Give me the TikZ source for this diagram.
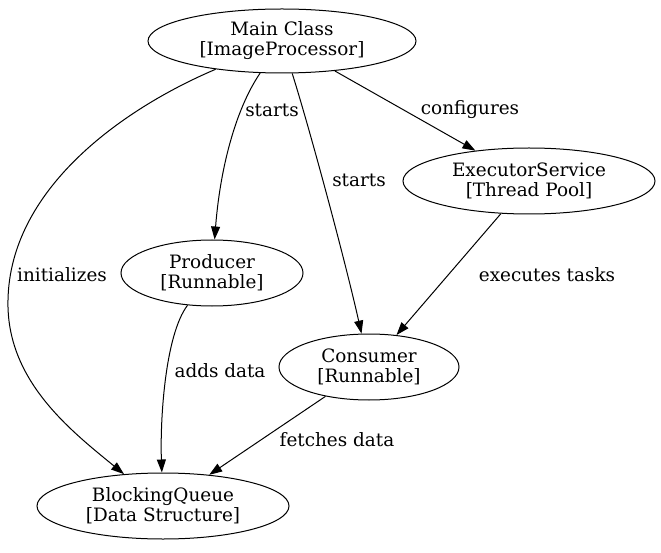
\documentclass[tikz,border=0pt]{standalone}
\usepackage{fontspec}
\setmainfont{DejaVu Serif}
\usetikzlibrary{shapes.geometric,arrows.meta}
\begin{document}
\begin{tikzpicture}[x=1pt,y=-1pt,
  every node/.style={font=\fontsize{18.4}{20}\selectfont},
  box/.style={ellipse,draw,line width=1pt,inner sep=0pt,align=center},
  lbl/.style={inner sep=0pt},
  conn/.style={draw,line width=1pt,-{Triangle[length=13pt,width=9pt]}}]
\useasboundingbox (0,0) rectangle (661,553);
\node[box,minimum width=268,minimum height=64] (main) at (282,41) {Main Class\\{}[ImageProcessor]};
\node[box,minimum width=252,minimum height=66] (exec) at (529,181) {ExecutorService\\{}[Thread Pool]};
\node[box,minimum width=182,minimum height=66] (prod) at (212,273) {Producer\\{}[Runnable]};
\node[box,minimum width=180,minimum height=66] (cons) at (369,367) {Consumer\\{}[Runnable]};
\node[box,minimum width=252,minimum height=66] (bq) at (163,506) {BlockingQueue\\{}[Data Structure]};

\path[conn] (main) .. controls (120,110) and (10,190) .. (8,300) .. controls (6,380) and (70,430) .. (bq);
\path[conn] (main) .. controls (235,110) and (220,170) .. (prod);
\path[conn] (main) .. controls (310,130) and (345,260) .. (cons);
\path[conn] (main) -- (exec);
\path[conn] (exec) -- (cons);
\path[conn] (prod) .. controls (165,335) and (160,420) .. (bq);
\path[conn] (cons) -- (bq);

\node[lbl] (l1) at (62,275) {initializes};
\node[lbl] (l2) at (272,110) {starts};
\node[lbl] (l3) at (359,180) {starts};
\node[lbl] (l4) at (470,110) {configures};
\node[lbl] (l5) at (547,275) {executes tasks};
\node[lbl] (l6) at (220,371) {adds data};
\node[lbl] (l7) at (337,440) {fetches data};
\end{tikzpicture}
\end{document}
